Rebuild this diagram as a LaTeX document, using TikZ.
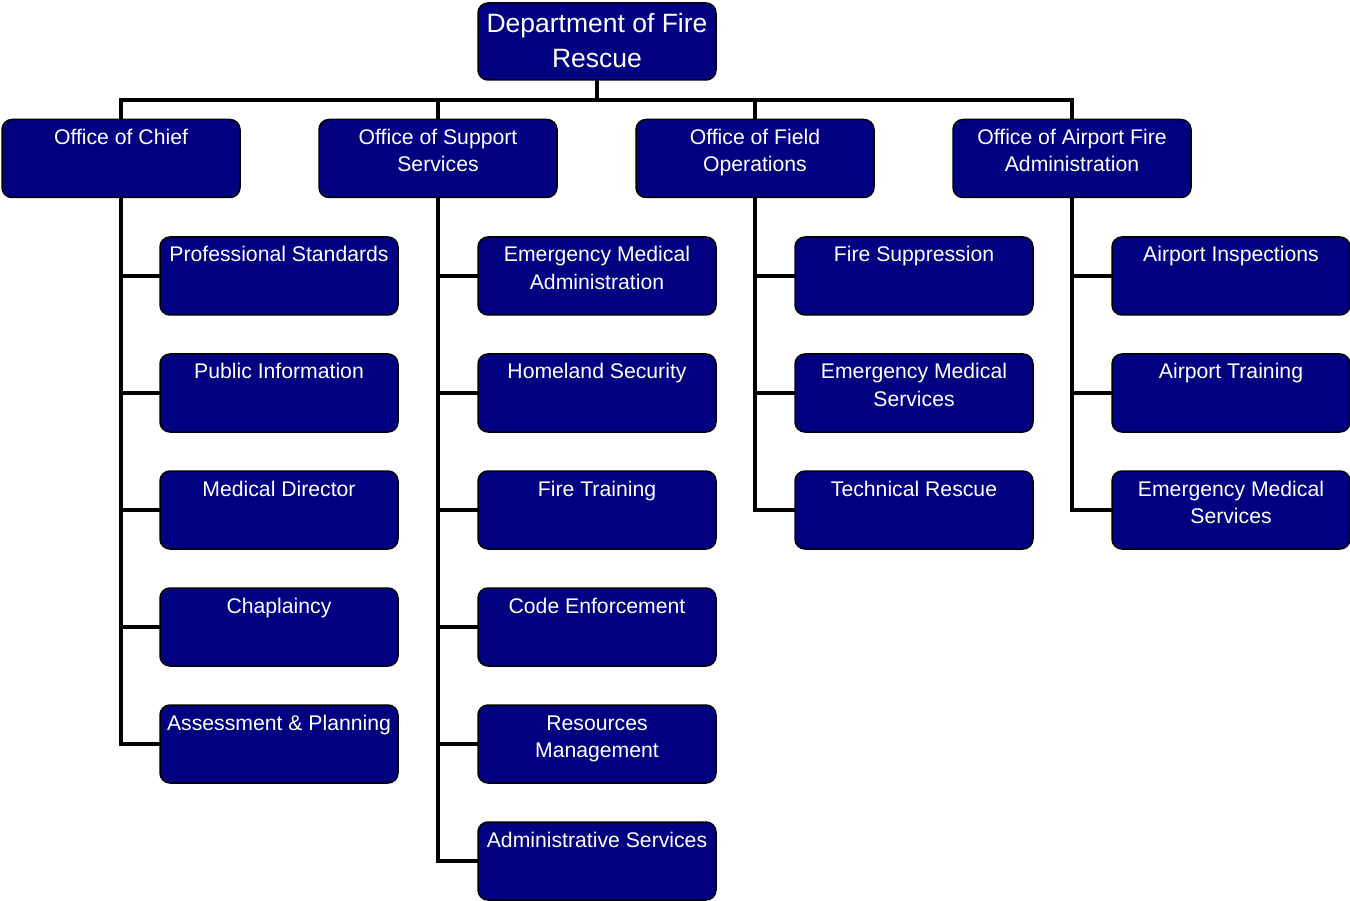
\documentclass[tikz,border=0pt]{standalone}
\usepackage{fontspec}
\setmainfont{Liberation Sans}
\usetikzlibrary{backgrounds}
\definecolor{navyfill}{HTML}{000080}
\newcommand\childtxt[1]{\parbox[t][78pt][t]{238pt}{\centering\fontsize{21.2}{27.5}\selectfont\rule{0pt}{25pt}#1\par}}
\newcommand\toptxt[1]{\parbox[t][77pt][t]{238pt}{\centering\fontsize{26.5}{35}\selectfont\rule{0pt}{29.5pt}#1\par}}
\begin{document}
\begin{tikzpicture}[x=1pt,y=-1pt,
  orgbox/.style={draw=black, line width=1.5pt, fill=navyfill, rounded corners=10pt, inner sep=0pt, outer sep=0pt, text=white},
  link/.style={draw=black, line width=4pt}]
\useasboundingbox (0,0) rectangle (1350,901);
% nodes
\node[orgbox] (top) at (597,41.5) {\toptxt{Department of Fire\\Rescue}};
\node[orgbox] (chief) at (121,158.5) {\childtxt{Office of Chief}};
\node[orgbox] (supp) at (438,158.5) {\childtxt{Office of Support\\Services}};
\node[orgbox] (field) at (755,158.5) {\childtxt{Office of Field\\Operations}};
\node[orgbox] (air) at (1072,158.5) {\childtxt{Office of Airport Fire\\Administration}};
% column 1
\node[orgbox] (c1) at (279,276) {\childtxt{Professional Standards}};
\node[orgbox] (c2) at (279,393) {\childtxt{Public Information}};
\node[orgbox] (c3) at (279,510) {\childtxt{Medical Director}};
\node[orgbox] (c4) at (279,627) {\childtxt{Chaplaincy}};
\node[orgbox] (c5) at (279,744) {\childtxt{Assessment \& Planning}};
% column 2
\node[orgbox] (s1) at (597,276) {\childtxt{Emergency Medical\\Administration}};
\node[orgbox] (s2) at (597,393) {\childtxt{Homeland Security}};
\node[orgbox] (s3) at (597,510) {\childtxt{Fire Training}};
\node[orgbox] (s4) at (597,627) {\childtxt{Code Enforcement}};
\node[orgbox] (s5) at (597,744) {\childtxt{Resources\\Management}};
\node[orgbox] (s6) at (597,861) {\childtxt{Administrative Services}};
% column 3
\node[orgbox] (f1) at (914,276) {\childtxt{Fire Suppression}};
\node[orgbox] (f2) at (914,393) {\childtxt{Emergency Medical\\Services}};
\node[orgbox] (f3) at (914,510) {\childtxt{Technical Rescue}};
% column 4
\node[orgbox] (a1) at (1231,276) {\childtxt{Airport Inspections}};
\node[orgbox] (a2) at (1231,393) {\childtxt{Airport Training}};
\node[orgbox] (a3) at (1231,510) {\childtxt{Emergency Medical\\Services}};
% connectors (behind boxes)
\begin{scope}[on background layer]
\foreach \L in {chief,supp,field,air}
  \draw[link] (top.south) -- ++(0,20) -| (\L.north);
\foreach \C in {c1,c2,c3,c4,c5} \draw[link] (chief.south) |- (\C.west);
\foreach \C in {s1,s2,s3,s4,s5,s6} \draw[link] (supp.south) |- (\C.west);
\foreach \C in {f1,f2,f3} \draw[link] (field.south) |- (\C.west);
\foreach \C in {a1,a2,a3} \draw[link] (air.south) |- (\C.west);
\end{scope}
\end{tikzpicture}
\end{document}
